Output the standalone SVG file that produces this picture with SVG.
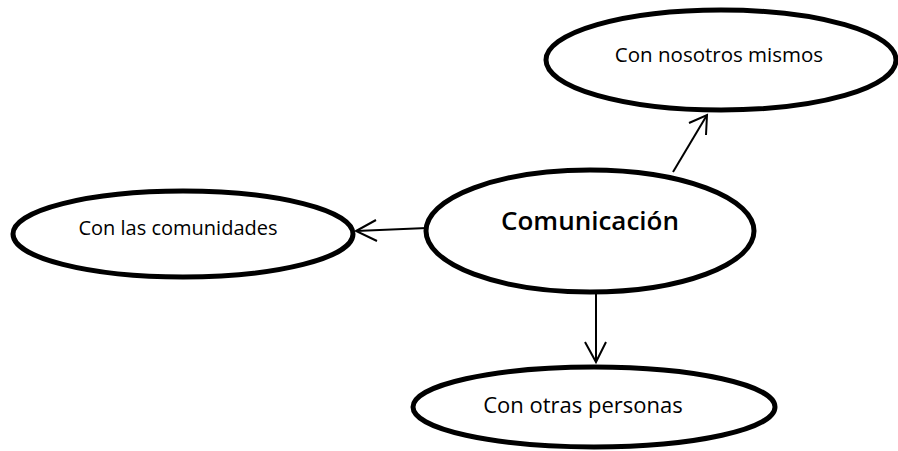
<svg xmlns="http://www.w3.org/2000/svg" width="898" height="451" viewBox="0 0 898 451">
  <style>
    .node ellipse { fill: #ffffff; stroke: #000000; stroke-width: 5; }
    .lbl { font-family: "Open Sans", "Liberation Sans", sans-serif; font-size: 20.5px; fill: #000000; }
    .main { font-size: 26px; font-weight: 600; }
    .conn line, .conn polyline { stroke: #000000; stroke-width: 2; fill: none; }
  </style>
  <rect width="898" height="451" fill="#ffffff"/>
  <g id="connectors" class="conn">
    <line x1="673" y1="172" x2="707" y2="115"/>
    <polyline points="689,123 707,115 706,135"/>
    <line x1="427" y1="228" x2="356" y2="231"/>
    <polyline points="376,220 356,231 377,241"/>
    <line x1="596" y1="293" x2="596" y2="362"/>
    <polyline points="585,342 596,362 606,342"/>
  </g>
  <g id="node-nosotros" class="node">
    <ellipse cx="721" cy="60" rx="175" ry="50"/>
    <text class="lbl" x="719" y="62" text-anchor="middle">Con nosotros mismos</text>
  </g>
  <g id="node-comunicacion" class="node">
    <ellipse cx="590" cy="231" rx="164" ry="61"/>
    <text class="lbl main" x="590" y="230" text-anchor="middle">Comunicación</text>
  </g>
  <g id="node-comunidades" class="node">
    <ellipse cx="183" cy="234" rx="170" ry="43"/>
    <text class="lbl" x="178" y="235" text-anchor="middle" style="font-size:20px">Con las comunidades</text>
  </g>
  <g id="node-personas" class="node">
    <ellipse cx="594" cy="407" rx="181" ry="40"/>
    <text class="lbl" x="583" y="413" text-anchor="middle" style="font-size:22px">Con otras personas</text>
  </g>
</svg>
